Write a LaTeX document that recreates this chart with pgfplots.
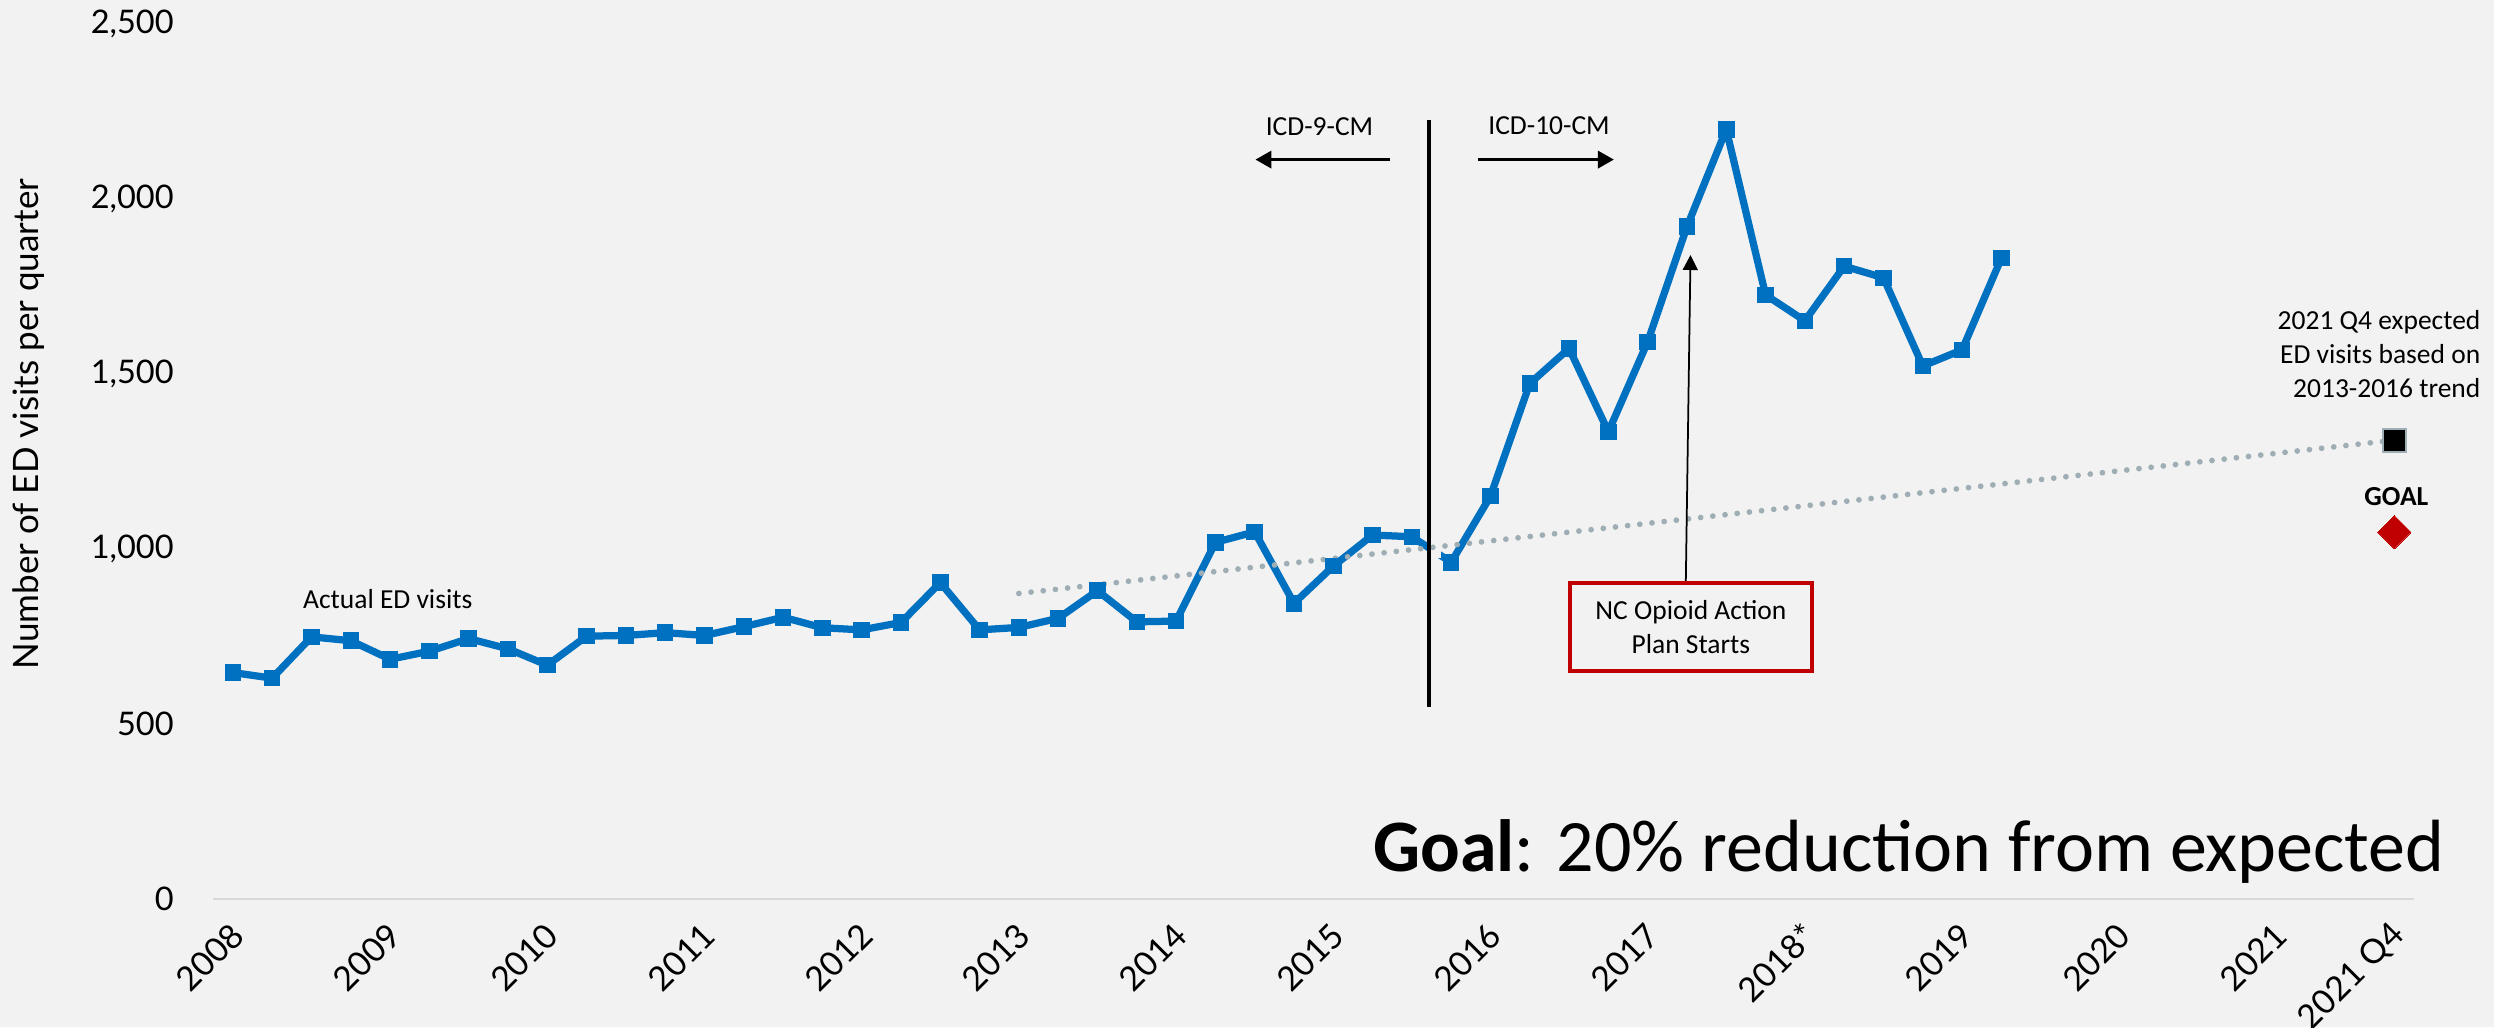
\documentclass[border=0pt]{standalone}
\usepackage{fontspec}
\setmainfont{Carlito}
\newfontfamily\gill{Lato}
\usepackage{pgfplots}
\pgfplotsset{compat=1.18}
\usetikzlibrary{arrows.meta}

\definecolor{bg}{RGB}{242,242,242}
\definecolor{edblue}{RGB}{0,112,192}
\definecolor{trend}{RGB}{158,174,180}
\definecolor{goalred}{RGB}{192,0,0}
\definecolor{axisgray}{RGB}{217,217,217}

\begin{document}
\begin{tikzpicture}[font=\fontsize{11}{13.6}\selectfont]
% slide background
\fill[bg] (-85.3pt,-51.2pt) rectangle (912.3pt,359.6pt);
\begin{axis}[
    at={(0pt,0pt)}, anchor=south west,
    scale only axis,
    width=880.3pt, height=350pt,
    xmin=-0.5, xmax=55.5,
    ymin=0, ymax=2500,
    clip=false,
    axis lines=left,
    axis line style={-},
    x axis line style={draw=axisgray, line width=1pt},
    y axis line style={draw=none},
    tick style={draw=none},
    xtick={0,4,8,12,16,20,24,28,32,36,40,44,48,52,55},
    xticklabels={2008,2009,2010,2011,2012,2013,2014,2015,2016,2017,2018*,2019,2020,2021,2021 Q4},
    ytick={0,500,1000,1500,2000,2500},
    yticklabels={0,500,{1,000},{1,500},{2,000},{2,500}},
    yticklabel style={font=\gill\fontsize{13}{15}\selectfont, anchor=east, inner sep=0pt, xshift=-13.5pt},
    xticklabel style={font=\gill\fontsize{13.5}{16}\selectfont, inner sep=0pt, yshift=-10pt, xshift=2pt, rotate=45, anchor=east},
]

% actual ED visits per quarter, 2008 Q1 - 2019 Q2
\addplot[edblue, line width=2.9pt, line join=round,
    mark=square*, mark size=3.1pt,
    mark options={solid, fill=edblue, draw=edblue, line width=0pt}]
coordinates {
    (0,647) (1,631) (2,749) (3,738) (4,685) (5,708) (6,744) (7,715)
    (8,668) (9,751) (10,753) (11,761) (12,753) (13,778) (14,805) (15,775)
    (16,769) (17,790) (18,904) (19,769) (20,776) (21,802) (22,881) (23,792)
    (24,794) (25,1019) (26,1049) (27,845) (28,951) (29,1040) (30,1035) (31,962)
    (32,1151) (33,1473) (34,1573) (35,1335) (36,1592) (37,1921) (38,2199) (39,1726)
    (40,1652) (41,1808) (42,1775) (43,1523) (44,1569) (45,1831)
};

% small break in the line at the coding change
\fill[bg] (axis cs:30.43,975) rectangle (axis cs:30.75,1015);

% 2013-2016 trend, extended to 2021 Q4
\addplot[trend, line width=2.3pt, line cap=round, dash pattern=on 0pt off 4.9pt]
coordinates {(20,873) (55,1311)};

% expected and goal
\addplot[only marks, mark=square*, mark size=4.6pt,
    mark options={fill=black, draw=trend, line width=0.8pt}]
coordinates {(55,1311)};
\addplot[only marks, mark=square*, mark size=4.7pt,
    mark options={rotate=45, fill=goalred, draw=goalred, line width=0pt}]
coordinates {(55,1048)};

% ICD-9 / ICD-10 split
\draw[line width=1.8pt] (axis cs:30.43,549) -- (axis cs:30.43,2226);
\draw[line width=1.2pt, -{Triangle[length=6.4pt,width=6.9pt]}]
    (axis cs:29.44,2112.6) -- (axis cs:26.02,2112.6);
\node at (axis cs:27.65,2206.6) {ICD-9-CM};
\draw[line width=1.2pt, -{Triangle[length=6.4pt,width=6.9pt]}]
    (axis cs:31.69,2112.6) -- (axis cs:35.14,2112.6);
\node at (axis cs:33.49,2208.6) {ICD-10-CM};

\node at (axis cs:3.94,857) {Actual ED visits};

% opioid plan callout
\draw[line width=0.7pt, -{Triangle[length=6pt,width=6pt]}]
    (axis cs:36.97,903) -- (axis cs:37.09,1840);
\node[draw=goalred, line width=1.6pt, fill=bg, minimum width=96.8pt, minimum height=35.2pt,
    align=center, inner sep=0pt] at (axis cs:37.1,777) {NC Opioid Action\\Plan Starts};

\node[font=\fontsize{11}{13.6}\selectfont\bfseries] at (axis cs:55.05,1151) {GOAL};
\node[anchor=east, align=right, inner sep=0pt] at (axis cs:57.2,1557)
    {2021 Q4 expected\\ED visits based on\\2013-2016 trend};

\node[anchor=base east, inner sep=0pt, font=\fontsize{29.6}{34}\selectfont]
    at (axis cs:56.29,80) {\textbf{Goal}: 20\% reduction from expected};

% y axis title
\node[rotate=90, font=\gill\fontsize{14}{17}\selectfont] at (axis cs:-5.19,1357)
    {Number of ED visits per quarter};
\end{axis}
\pgfresetboundingbox
\useasboundingbox (-85.3pt,-51.2pt) rectangle (912.3pt,359.6pt);
\end{tikzpicture}
\end{document}
